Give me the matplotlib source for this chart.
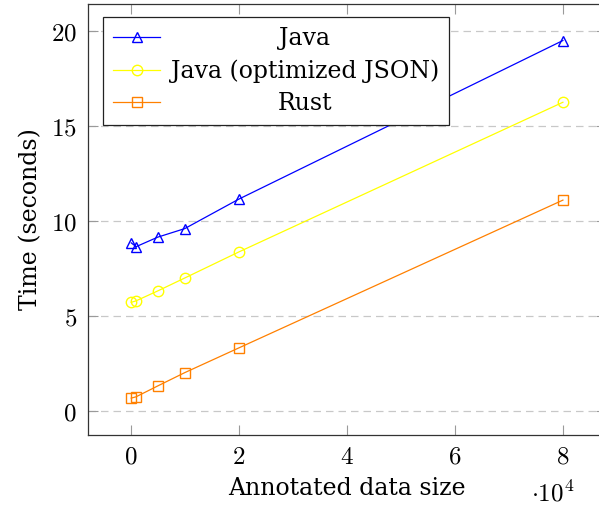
import matplotlib
matplotlib.use("Agg")
import matplotlib.pyplot as plt

# ── Benchmark data ─────────────────────────────────────────────────────
sizes = [100, 1000, 5000, 10000, 20000, 80000]
java_times = [8.85, 8.65, 9.15, 9.6, 11.15, 19.5]
java_json_times = [5.72, 5.8, 6.32, 7.0, 8.37, 16.25]
rust_times = [0.68, 0.75, 1.32, 2.02, 3.32, 11.1]

series_labels = ["Java", "Java (optimized JSON)", "Rust"]
yticks = [0, 5, 10, 15, 20]
xticks = [0, 20000, 40000, 60000, 80000]
xtick_labels = ["0", "2", "4", "6", "8"]

FS = 17

plt.rcParams.update({
    "font.family": "DejaVu Serif",
    "mathtext.fontset": "cm",
    "font.size": FS,
})

fig = plt.figure(figsize=(5.99, 5.08), dpi=100)
ax = fig.add_axes([88 / 599, 1 - 434.6 / 508, 517.6 / 599, 430.2 / 508])

style = dict(linewidth=0.9, markersize=7.5, markerfacecolor="none", markeredgewidth=1.0)
ax.plot(sizes, java_times, color="#0000ff", marker="^", label=series_labels[0], **style)
ax.plot(sizes, java_json_times, color="#ffff00", marker="o", label=series_labels[1], **style)
ax.plot(sizes, rust_times, color="#ff8000", marker="s", label=series_labels[2], **style)

ax.set_xlim(-0.79e4, 8.79e4)
ax.set_ylim(-1.24, 21.4)
ax.set_xticks(xticks)
ax.set_xticklabels([f"${s}$" for s in xtick_labels])
ax.set_yticks(yticks)
ax.set_yticklabels([f"${v}$" for v in yticks])

ax.yaxis.grid(True, color="#c8c8c8", linestyle=(0, (6, 4)), linewidth=0.9)
ax.set_axisbelow(True)
ax.tick_params(direction="in", length=7, width=0.8, color="#9a9a9a",
               top=True, right=True, labelsize=FS + 1, pad=8)
for sp in ax.spines.values():
    sp.set_color("#333333")
    sp.set_linewidth(0.9)

ax.set_xlabel("Annotated data size", fontsize=FS, labelpad=6)
ax.set_ylabel("Time (seconds)", fontsize=FS, labelpad=6)
fig.text(553 / 599, 1 - 494 / 508, r"$\cdot 10^{4}$", fontsize=FS + 1, ha="center", va="center")

leg = ax.legend(loc="upper left", bbox_to_anchor=(15 / 517.6, 1 - 12.6 / 430.2),
                frameon=True, fancybox=False, edgecolor="#222222", framealpha=1,
                fontsize=FS, handlelength=2.0, handletextpad=0.45, borderpad=0.42,
                labelspacing=0.4, borderaxespad=0)
leg.get_frame().set_linewidth(0.9)

# center legend entries within the text column
fig.canvas.draw()
renderer = fig.canvas.get_renderer()
texts = leg.get_texts()
widths = [t.get_window_extent(renderer).width for t in texts]
wmax = max(widths)
for t, w in zip(texts, widths):
    t.set_x((wmax - w) / 2)

fig.savefig("out.png", dpi=100, facecolor="white")
